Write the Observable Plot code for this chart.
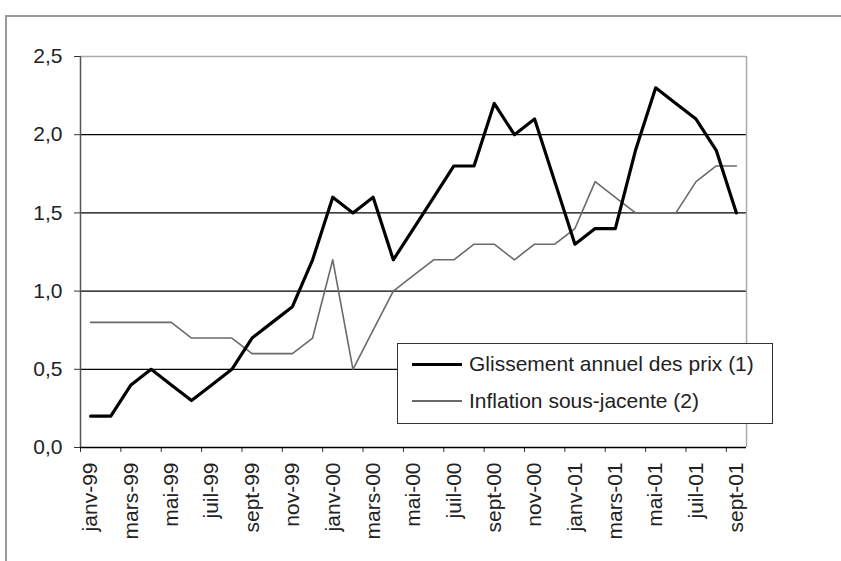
<!DOCTYPE html>
<html>
<head>
<meta charset="utf-8">
<script src="https://cdn.jsdelivr.net/npm/d3@7"></script>
<script src="https://cdn.jsdelivr.net/npm/@observablehq/plot@0.6"></script>
<style>
  html, body { margin: 0; padding: 0; background: #fff; }
  #wrap { position: relative; width: 841px; height: 561px; overflow: hidden; font-family: "Liberation Sans", Arial, sans-serif; }
  #frame { position: absolute; left: 5px; top: 15px; width: 840px; height: 560px; border-top: 2px solid #9a9a9a; border-left: 2px solid #9a9a9a; pointer-events: none; }
  #legend { position: absolute; left: 397px; top: 343px; width: 374px; height: 79px; border: 1.5px solid #333; background: #fff; }
  .row { position: absolute; left: 0; height: 30px; }
  .sample { position: absolute; left: 14px; width: 50px; }
  .lab { position: absolute; left: 71px; font-size: 21px; color: #222; white-space: nowrap; line-height: 24px; }
</style>
</head>
<body>
<div id="wrap"></div>
<script>
const months = ["janv-99","févr-99","mars-99","avr-99","mai-99","juin-99","juil-99","août-99","sept-99","oct-99","nov-99","déc-99",
                "janv-00","févr-00","mars-00","avr-00","mai-00","juin-00","juil-00","août-00","sept-00","oct-00","nov-00","déc-00",
                "janv-01","févr-01","mars-01","avr-01","mai-01","juin-01","juil-01","août-01","sept-01"];
const glissement = [0.2,0.2,0.4,0.5,0.4,0.3,0.4,0.5,0.7,0.8,0.9,1.2,
                    1.6,1.5,1.6,1.2,1.4,1.6,1.8,1.8,2.2,2.0,2.1,1.7,
                    1.3,1.4,1.4,1.9,2.3,2.2,2.1,1.9,1.5];
const inflation = [0.8,0.8,0.8,0.8,0.8,0.7,0.7,0.7,0.6,0.6,0.6,0.7,
                   1.2,0.5,0.75,1.0,1.1,1.2,1.2,1.3,1.3,1.2,1.3,1.3,
                   1.4,1.7,1.6,1.5,1.5,1.5,1.7,1.8,1.8];
const yTicks = [0, 0.5, 1.0, 1.5, 2.0, 2.5];
const gridValues = [0.5, 1.0, 1.5, 2.0];
const seriesNames = ["Glissement annuel des prix (1)", "Inflation sous-jacente (2)"];

const idx = months.map((m, i) => i);
const labelIdx = idx.filter(i => i % 2 === 0);
const boundaries = labelIdx.map(i => i - 0.5);

const chart = Plot.plot({
  width: 841,
  height: 561,
  marginLeft: 80,
  marginRight: 95,
  marginTop: 56,
  marginBottom: 114,
  x: {domain: [-0.5, months.length - 0.5]},
  y: {domain: [0, 2.5]},
  style: {fontFamily: "'Liberation Sans', Arial, sans-serif", fontSize: "21px", color: "#222", background: "transparent", overflow: "visible"},
  marks: [
    Plot.ruleY(gridValues, {stroke: "#000", strokeWidth: 1.2}),
    Plot.ruleY([2.5], {stroke: "#aaa", strokeWidth: 1.5}),
    Plot.ruleX([months.length - 0.5], {stroke: "#aaa", strokeWidth: 1.5}),
    Plot.axisY({ticks: yTicks, tickFormat: d => d.toFixed(1).replace(".", ","), tickSize: 6, tickPadding: 12, label: null, stroke: "#333", fill: "#222"}),
    Plot.ruleX([-0.5], {stroke: "#555", strokeWidth: 1.5}),
    Plot.axisX({ticks: boundaries, tickSize: 5, tickFormat: () => "", label: null, stroke: "#333"}),
    Plot.axisX({ticks: labelIdx, tickSize: 0, tickPadding: 15, tickRotate: -90, tickFormat: i => months[i], label: null, fill: "#222"}),
    Plot.ruleY([0], {stroke: "#000", strokeWidth: 1.5}),
    Plot.lineY(inflation, {x: (d, i) => i, y: d => d, stroke: "#6a6a6a", strokeWidth: 1.6}),
    Plot.lineY(glissement, {x: (d, i) => i, y: d => d, stroke: "#000", strokeWidth: 3.2})
  ]
});

const wrap = document.getElementById("wrap");
wrap.appendChild(chart);
const frame = document.createElement("div");
frame.id = "frame";
wrap.appendChild(frame);

const legend = document.createElement("div");
legend.id = "legend";
const styles = [{color: "#000", w: 3}, {color: "#6a6a6a", w: 1.6}];
const rowsY = [20, 57];
seriesNames.forEach((name, k) => {
  const s = document.createElement("div");
  s.className = "sample";
  s.style.top = (rowsY[k] - styles[k].w / 2) + "px";
  s.style.height = styles[k].w + "px";
  s.style.background = styles[k].color;
  legend.appendChild(s);
  const t = document.createElement("div");
  t.className = "lab";
  t.style.top = (rowsY[k] - 12) + "px";
  t.textContent = name;
  legend.appendChild(t);
});
wrap.appendChild(legend);
</script>
</body>
</html>
